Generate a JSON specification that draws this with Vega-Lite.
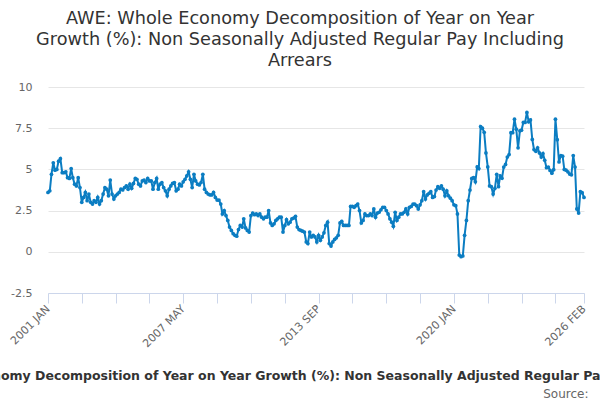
{
  "$schema": "https://vega.github.io/schema/vega-lite/v6.json",
  "width": 536,
  "height": 206,
  "autosize": {"type": "none"},
  "padding": {"left": 48, "top": 87, "right": 16, "bottom": 107},
  "background": "white",
  "config": {"view": {"stroke": null}, "font": "DejaVu Sans"},
  "title": {
    "text": [
      "AWE: Whole Economy Decomposition of Year on Year",
      "Growth (%): Non Seasonally Adjusted Regular Pay Including",
      "Arrears"
    ],
    "fontSize": 17.7,
    "fontWeight": "normal",
    "color": "#333333",
    "anchor": "middle",
    "dx": -16,
    "offset": 11,
    "lineHeight": 21
  },
  "data": {
    "values": [
      {"d": "2001-01", "v": 3.6}, {"d": "2001-02", "v": 3.7}, {"d": "2001-03", "v": 4.7}, {"d": "2001-04", "v": 5.4}, {"d": "2001-05", "v": 4.95}, {"d": "2001-06", "v": 5.0}, {"d": "2001-07", "v": 5.5}, {"d": "2001-08", "v": 5.65}, {"d": "2001-09", "v": 4.8}, {"d": "2001-10", "v": 4.8}, {"d": "2001-11", "v": 4.85}, {"d": "2001-12", "v": 4.5},
      {"d": "2002-01", "v": 4.45}, {"d": "2002-02", "v": 5.05}, {"d": "2002-03", "v": 4.5}, {"d": "2002-04", "v": 4.1}, {"d": "2002-05", "v": 4.0}, {"d": "2002-06", "v": 4.5}, {"d": "2002-07", "v": 3.9}, {"d": "2002-08", "v": 3.0}, {"d": "2002-09", "v": 3.3}, {"d": "2002-10", "v": 3.6}, {"d": "2002-11", "v": 3.1}, {"d": "2002-12", "v": 3.5},
      {"d": "2003-01", "v": 3.0}, {"d": "2003-02", "v": 2.9}, {"d": "2003-03", "v": 3.1}, {"d": "2003-04", "v": 3.0}, {"d": "2003-05", "v": 3.3}, {"d": "2003-06", "v": 2.9}, {"d": "2003-07", "v": 3.1}, {"d": "2003-08", "v": 3.5}, {"d": "2003-09", "v": 3.9}, {"d": "2003-10", "v": 3.8}, {"d": "2003-11", "v": 3.4}, {"d": "2003-12", "v": 4.35},
      {"d": "2004-01", "v": 3.5}, {"d": "2004-02", "v": 3.2}, {"d": "2004-03", "v": 3.4}, {"d": "2004-04", "v": 3.5}, {"d": "2004-05", "v": 3.6}, {"d": "2004-06", "v": 3.8}, {"d": "2004-07", "v": 3.75}, {"d": "2004-08", "v": 3.9}, {"d": "2004-09", "v": 4.0}, {"d": "2004-10", "v": 3.8}, {"d": "2004-11", "v": 4.1}, {"d": "2004-12", "v": 3.85},
      {"d": "2005-01", "v": 4.15}, {"d": "2005-02", "v": 4.45}, {"d": "2005-03", "v": 4.4}, {"d": "2005-04", "v": 4.1}, {"d": "2005-05", "v": 4.0}, {"d": "2005-06", "v": 4.3}, {"d": "2005-07", "v": 4.35}, {"d": "2005-08", "v": 4.2}, {"d": "2005-09", "v": 4.45}, {"d": "2005-10", "v": 4.3}, {"d": "2005-11", "v": 4.3}, {"d": "2005-12", "v": 3.8},
      {"d": "2006-01", "v": 4.2}, {"d": "2006-02", "v": 4.45}, {"d": "2006-03", "v": 3.8}, {"d": "2006-04", "v": 4.1}, {"d": "2006-05", "v": 4.2}, {"d": "2006-06", "v": 3.9}, {"d": "2006-07", "v": 3.7}, {"d": "2006-08", "v": 3.4}, {"d": "2006-09", "v": 3.8}, {"d": "2006-10", "v": 4.0}, {"d": "2006-11", "v": 4.15}, {"d": "2006-12", "v": 4.2},
      {"d": "2007-01", "v": 3.7}, {"d": "2007-02", "v": 3.8}, {"d": "2007-03", "v": 4.1}, {"d": "2007-04", "v": 4.0}, {"d": "2007-05", "v": 4.25}, {"d": "2007-06", "v": 4.4}, {"d": "2007-07", "v": 4.6}, {"d": "2007-08", "v": 4.85}, {"d": "2007-09", "v": 4.4}, {"d": "2007-10", "v": 3.9}, {"d": "2007-11", "v": 4.7}, {"d": "2007-12", "v": 4.3},
      {"d": "2008-01", "v": 4.1}, {"d": "2008-02", "v": 4.06}, {"d": "2008-03", "v": 4.2}, {"d": "2008-04", "v": 4.7}, {"d": "2008-05", "v": 3.8}, {"d": "2008-06", "v": 3.6}, {"d": "2008-07", "v": 3.5}, {"d": "2008-08", "v": 3.45}, {"d": "2008-09", "v": 3.45}, {"d": "2008-10", "v": 3.6}, {"d": "2008-11", "v": 3.3}, {"d": "2008-12", "v": 3.14},
      {"d": "2009-01", "v": 3.14}, {"d": "2009-02", "v": 2.9}, {"d": "2009-03", "v": 2.3}, {"d": "2009-04", "v": 2.5}, {"d": "2009-05", "v": 2.2}, {"d": "2009-06", "v": 1.9}, {"d": "2009-07", "v": 1.5}, {"d": "2009-08", "v": 1.3}, {"d": "2009-09", "v": 1.1}, {"d": "2009-10", "v": 1.0}, {"d": "2009-11", "v": 0.95}, {"d": "2009-12", "v": 1.35},
      {"d": "2010-01", "v": 1.6}, {"d": "2010-02", "v": 1.5}, {"d": "2010-03", "v": 2.0}, {"d": "2010-04", "v": 1.45}, {"d": "2010-05", "v": 1.3}, {"d": "2010-06", "v": 1.2}, {"d": "2010-07", "v": 2.2}, {"d": "2010-08", "v": 2.35}, {"d": "2010-09", "v": 2.25}, {"d": "2010-10", "v": 2.3}, {"d": "2010-11", "v": 2.2}, {"d": "2010-12", "v": 2.3},
      {"d": "2011-01", "v": 2.1}, {"d": "2011-02", "v": 2.0}, {"d": "2011-03", "v": 2.1}, {"d": "2011-04", "v": 2.1}, {"d": "2011-05", "v": 2.5}, {"d": "2011-06", "v": 1.75}, {"d": "2011-07", "v": 1.6}, {"d": "2011-08", "v": 1.7}, {"d": "2011-09", "v": 1.9}, {"d": "2011-10", "v": 2.0}, {"d": "2011-11", "v": 2.1}, {"d": "2011-12", "v": 2.1},
      {"d": "2012-01", "v": 1.2}, {"d": "2012-02", "v": 1.6}, {"d": "2012-03", "v": 1.95}, {"d": "2012-04", "v": 1.7}, {"d": "2012-05", "v": 1.8}, {"d": "2012-06", "v": 2.0}, {"d": "2012-07", "v": 2.05}, {"d": "2012-08", "v": 2.15}, {"d": "2012-09", "v": 1.5}, {"d": "2012-10", "v": 1.35}, {"d": "2012-11", "v": 1.3}, {"d": "2012-12", "v": 1.25},
      {"d": "2013-01", "v": 1.2}, {"d": "2013-02", "v": 0.6}, {"d": "2013-03", "v": 0.5}, {"d": "2013-04", "v": 1.2}, {"d": "2013-05", "v": 0.9}, {"d": "2013-06", "v": 1.0}, {"d": "2013-07", "v": 0.9}, {"d": "2013-08", "v": 0.6}, {"d": "2013-09", "v": 1.0}, {"d": "2013-10", "v": 0.7}, {"d": "2013-11", "v": 0.9}, {"d": "2013-12", "v": 1.15},
      {"d": "2014-01", "v": 1.6}, {"d": "2014-02", "v": 1.8}, {"d": "2014-03", "v": 0.5}, {"d": "2014-04", "v": 0.35}, {"d": "2014-05", "v": 0.6}, {"d": "2014-06", "v": 0.75}, {"d": "2014-07", "v": 0.85}, {"d": "2014-08", "v": 1.0}, {"d": "2014-09", "v": 1.75}, {"d": "2014-10", "v": 1.85}, {"d": "2014-11", "v": 1.6}, {"d": "2014-12", "v": 1.6},
      {"d": "2015-01", "v": 1.6}, {"d": "2015-02", "v": 1.6}, {"d": "2015-03", "v": 2.75}, {"d": "2015-04", "v": 2.75}, {"d": "2015-05", "v": 2.7}, {"d": "2015-06", "v": 2.8}, {"d": "2015-07", "v": 2.9}, {"d": "2015-08", "v": 2.5}, {"d": "2015-09", "v": 1.75}, {"d": "2015-10", "v": 1.9}, {"d": "2015-11", "v": 2.3}, {"d": "2015-12", "v": 2.2},
      {"d": "2016-01", "v": 2.2}, {"d": "2016-02", "v": 2.3}, {"d": "2016-03", "v": 2.2}, {"d": "2016-04", "v": 2.6}, {"d": "2016-05", "v": 2.1}, {"d": "2016-06", "v": 2.35}, {"d": "2016-07", "v": 2.4}, {"d": "2016-08", "v": 2.55}, {"d": "2016-09", "v": 2.7}, {"d": "2016-10", "v": 2.7}, {"d": "2016-11", "v": 2.5}, {"d": "2016-12", "v": 2.3},
      {"d": "2017-01", "v": 2.0}, {"d": "2017-02", "v": 1.8}, {"d": "2017-03", "v": 1.55}, {"d": "2017-04", "v": 2.4}, {"d": "2017-05", "v": 1.9}, {"d": "2017-06", "v": 2.1}, {"d": "2017-07", "v": 2.3}, {"d": "2017-08", "v": 2.3}, {"d": "2017-09", "v": 2.4}, {"d": "2017-10", "v": 2.6}, {"d": "2017-11", "v": 2.3}, {"d": "2017-12", "v": 2.7},
      {"d": "2018-01", "v": 2.75}, {"d": "2018-02", "v": 2.9}, {"d": "2018-03", "v": 2.9}, {"d": "2018-04", "v": 2.8}, {"d": "2018-05", "v": 2.6}, {"d": "2018-06", "v": 2.85}, {"d": "2018-07", "v": 3.1}, {"d": "2018-08", "v": 3.65}, {"d": "2018-09", "v": 3.2}, {"d": "2018-10", "v": 3.45}, {"d": "2018-11", "v": 3.55}, {"d": "2018-12", "v": 3.65},
      {"d": "2019-01", "v": 3.3}, {"d": "2019-02", "v": 3.35}, {"d": "2019-03", "v": 3.75}, {"d": "2019-04", "v": 3.95}, {"d": "2019-05", "v": 3.85}, {"d": "2019-06", "v": 4.0}, {"d": "2019-07", "v": 3.8}, {"d": "2019-08", "v": 3.4}, {"d": "2019-09", "v": 3.7}, {"d": "2019-10", "v": 3.4}, {"d": "2019-11", "v": 3.25}, {"d": "2019-12", "v": 3.1},
      {"d": "2020-01", "v": 2.85}, {"d": "2020-02", "v": 2.8}, {"d": "2020-03", "v": 2.3}, {"d": "2020-04", "v": -0.2}, {"d": "2020-05", "v": -0.3}, {"d": "2020-06", "v": -0.25}, {"d": "2020-07", "v": 1.0}, {"d": "2020-08", "v": 1.9}, {"d": "2020-09", "v": 3.1}, {"d": "2020-10", "v": 3.75}, {"d": "2020-11", "v": 4.45}, {"d": "2020-12", "v": 4.5},
      {"d": "2021-01", "v": 4.25}, {"d": "2021-02", "v": 5.15}, {"d": "2021-03", "v": 5.05}, {"d": "2021-04", "v": 7.6}, {"d": "2021-05", "v": 7.5}, {"d": "2021-06", "v": 7.25}, {"d": "2021-07", "v": 6.0}, {"d": "2021-08", "v": 5.15}, {"d": "2021-09", "v": 4.0}, {"d": "2021-10", "v": 3.95}, {"d": "2021-11", "v": 3.5}, {"d": "2021-12", "v": 3.85},
      {"d": "2022-01", "v": 4.7}, {"d": "2022-02", "v": 3.95}, {"d": "2022-03", "v": 4.6}, {"d": "2022-04", "v": 4.47}, {"d": "2022-05", "v": 5.14}, {"d": "2022-06", "v": 5.3}, {"d": "2022-07", "v": 5.75}, {"d": "2022-08", "v": 5.9}, {"d": "2022-09", "v": 7.23}, {"d": "2022-10", "v": 7.23}, {"d": "2022-11", "v": 8.05}, {"d": "2022-12", "v": 7.44},
      {"d": "2023-01", "v": 6.31}, {"d": "2023-02", "v": 7.34}, {"d": "2023-03", "v": 7.38}, {"d": "2023-04", "v": 7.85}, {"d": "2023-05", "v": 7.85}, {"d": "2023-06", "v": 8.46}, {"d": "2023-07", "v": 7.89}, {"d": "2023-08", "v": 8.0}, {"d": "2023-09", "v": 6.82}, {"d": "2023-10", "v": 6.2}, {"d": "2023-11", "v": 6.1}, {"d": "2023-12", "v": 6.31},
      {"d": "2024-01", "v": 6.0}, {"d": "2024-02", "v": 5.75}, {"d": "2024-03", "v": 5.96}, {"d": "2024-04", "v": 5.55}, {"d": "2024-05", "v": 5.1}, {"d": "2024-06", "v": 5.14}, {"d": "2024-07", "v": 4.94}, {"d": "2024-08", "v": 4.77}, {"d": "2024-09", "v": 4.98}, {"d": "2024-10", "v": 8.05}, {"d": "2024-11", "v": 6.8}, {"d": "2024-12", "v": 5.45},
      {"d": "2025-01", "v": 5.84}, {"d": "2025-02", "v": 5.8}, {"d": "2025-03", "v": 5.0}, {"d": "2025-04", "v": 4.95}, {"d": "2025-05", "v": 4.85}, {"d": "2025-06", "v": 4.72}, {"d": "2025-07", "v": 4.67}, {"d": "2025-08", "v": 5.84}, {"d": "2025-09", "v": 5.14}, {"d": "2025-10", "v": 2.6}, {"d": "2025-11", "v": 2.35}, {"d": "2025-12", "v": 3.65},
      {"d": "2026-01", "v": 3.59}, {"d": "2026-02", "v": 3.3}
    ]
  },
  "layer": [
    {
      "mark": {"type": "line", "color": "#0b7dc2", "strokeWidth": 2},
      "encoding": {
        "x": {
          "field": "d",
          "type": "temporal",
          "scale": {
            "type": "utc",
            "domain": [
              {"year": 2001, "month": 1, "date": 1, "utc": true},
              {"year": 2026, "month": 2, "date": 1, "utc": true}
            ]
          },
          "axis": {
            "values": [
              {"year": 2001, "month": 1, "date": 1, "utc": true},
              {"year": 2002, "month": 8, "date": 1, "utc": true},
              {"year": 2004, "month": 3, "date": 1, "utc": true},
              {"year": 2005, "month": 10, "date": 1, "utc": true},
              {"year": 2007, "month": 5, "date": 1, "utc": true},
              {"year": 2008, "month": 12, "date": 1, "utc": true},
              {"year": 2010, "month": 7, "date": 1, "utc": true},
              {"year": 2012, "month": 2, "date": 1, "utc": true},
              {"year": 2013, "month": 9, "date": 1, "utc": true},
              {"year": 2015, "month": 4, "date": 1, "utc": true},
              {"year": 2016, "month": 11, "date": 1, "utc": true},
              {"year": 2018, "month": 6, "date": 1, "utc": true},
              {"year": 2020, "month": 1, "date": 1, "utc": true},
              {"year": 2021, "month": 8, "date": 1, "utc": true},
              {"year": 2023, "month": 3, "date": 1, "utc": true},
              {"year": 2024, "month": 10, "date": 1, "utc": true},
              {"year": 2026, "month": 2, "date": 1, "utc": true}
            ],
            "labelExpr": "indexof(['2001 JAN','2007 MAY','2013 SEP','2020 JAN','2026 FEB'], upper(utcFormat(datum.value, '%Y %b'))) >= 0 ? upper(utcFormat(datum.value, '%Y %b')) : ''",
            "labelAngle": -45,
            "labelAlign": "right",
            "labelBaseline": "middle",
            "labelPadding": 4,
            "labelOverlap": false,
            "labelFontSize": 11,
            "labelColor": "#666666",
            "labelFlush": false,
            "grid": false,
            "tickSize": 10,
            "tickColor": "#ccd6eb",
            "domainColor": "#ccd6eb",
            "title": "AWE: Whole Economy Decomposition of Year on Year Growth (%): Non Seasonally Adjusted Regular Pay Including Arrears",
            "titleFontSize": 12.5,
            "titleFontWeight": "bold",
            "titleColor": "#333333",
            "titleAlign": "center",
            "titleBaseline": "alphabetic",
            "titleX": 258,
            "titleY": 86
          }
        },
        "y": {
          "field": "v",
          "type": "quantitative",
          "scale": {"domain": [-2.5, 10], "nice": false, "zero": false},
          "axis": {
            "values": [-2.5, 0, 2.5, 5, 7.5, 10],
            "labelExpr": "'' + datum.value",
            "labelFontSize": 11,
            "labelColor": "#666666",
            "labelPadding": 16,
            "ticks": false,
            "tickSize": 0,
            "domain": false,
            "gridColor": "#e6e6e6",
            "title": null
          }
        }
      }
    },
    {
      "mark": {"type": "point", "filled": true, "color": "#0b7dc2", "size": 14, "opacity": 1},
      "encoding": {
        "x": {
          "field": "d",
          "type": "temporal",
          "axis": {
            "orient": "bottom",
            "domain": false,
            "ticks": false,
            "labels": false,
            "grid": false,
            "title": "Source:",
            "titleFontSize": 12,
            "titleFontWeight": "normal",
            "titleColor": "#666666",
            "titleAlign": "right",
            "titleBaseline": "alphabetic",
            "titleX": 540,
            "titleY": 104
          }
        },
        "y": {"field": "v", "type": "quantitative"}
      }
    }
  ],
  "resolve": {"axis": {"x": "independent"}}
}
